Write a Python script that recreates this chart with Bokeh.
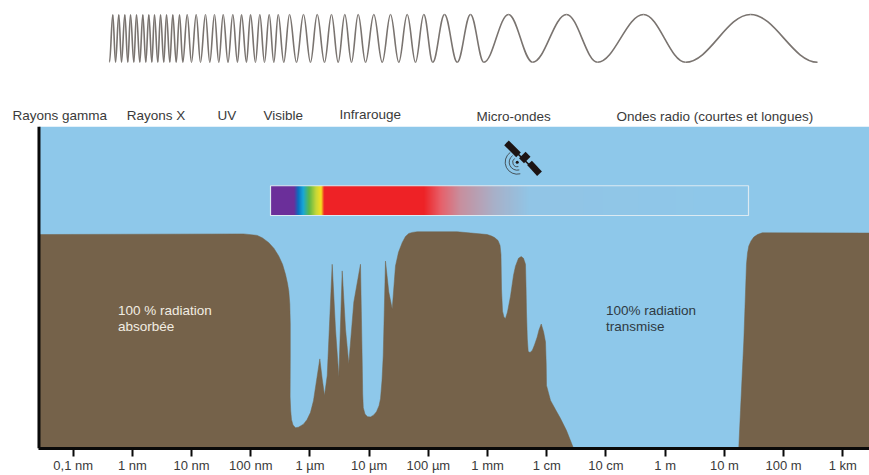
import numpy as np
from bokeh.plotting import figure
from bokeh.models import Range1d, LinearAxis, FixedTicker
from bokeh.core.properties import value
from bokeh.embed import file_html
from bokeh.resources import INLINE

# x: decades above 0.1 nm, y: % of radiation absorbed
tick_positions = list(range(14))
tick_labels = ["0,1 nm", "1 nm", "10 nm", "100 nm", "1 µm", "10 µm", "100 µm", "1 mm",
               "1 cm", "10 cm", "1 m", "10 m", "100 m", "1 km"]

absorb_x = [-0.578, 2.877, 3.108, 3.198, 3.304, 3.392, 3.473, 3.536, 3.586, 3.620, 3.642, 3.659, 3.667, 3.667,
            3.664, 3.674, 3.688, 3.713, 3.755, 3.806, 3.890, 3.949, 4.008, 4.059, 4.110, 4.166, 4.206, 4.245,
            4.291, 4.375, 4.431, 4.487, 4.544, 4.600, 4.655, 4.740, 4.853, 4.882, 4.890, 4.900, 4.929, 4.971,
            5.022, 5.073, 5.123, 5.166, 5.191, 5.216, 5.237, 5.275, 5.331, 5.389, 5.444, 5.495, 5.557, 5.613,
            5.669, 5.731, 5.811, 6.487, 6.993, 7.066, 7.117, 7.176, 7.210, 7.226, 7.235, 7.252, 7.277, 7.302,
            7.336, 7.387, 7.438, 7.471, 7.522, 7.568, 7.606, 7.640, 7.650, 7.657, 7.671, 7.686, 7.717, 7.754,
            7.792, 7.838, 7.868, 7.906, 7.946, 7.978, 7.990, 7.995, 8.063, 8.147, 8.232, 8.333, 8.446, 11.243,
            11.272, 11.328, 11.373, 11.390, 11.412, 11.450, 11.497, 11.559, 11.639, 13.451, 13.451, -0.578]
absorb_y = [99.5, 99.8, 99.1, 97.9, 95.7, 93.0, 89.4, 85.6, 80.9, 76.7, 73.0, 67.0, 57.7, 42.3,
            23.7, 17.2, 13.0, 10.5, 9.2, 9.5, 10.9, 13.0, 16.3, 21.9, 31.2, 41.4, 32.1, 24.3,
            33.6, 85.6, 55.3, 33.0, 82.5, 55.3, 39.1, 67.9, 85.6, 40.0, 25.1, 18.6, 15.6, 14.4,
            14.3, 15.1, 16.7, 19.5, 22.8, 31.2, 42.9, 87.1, 72.6, 64.7, 84.8, 91.2, 95.7, 98.6,
            100.0, 100.5, 100.8, 100.8, 99.5, 98.8, 98.1, 96.7, 94.4, 90.2, 74.0, 63.7, 60.9, 60.3,
            63.3, 70.7, 80.5, 84.7, 88.4, 89.2, 88.4, 85.6, 74.0, 63.3, 50.7, 44.8, 44.4, 45.3,
            47.9, 51.6, 54.9, 57.7, 54.0, 49.3, 39.1, 29.0, 22.0, 17.7, 13.5, 7.9, 0.0, 0.0,
            17.3, 49.9, 85.6, 90.7, 94.1, 96.5, 98.3, 99.5, 100.3, 100.2, 0.0, 0.0]

wave_troughs = [0.613, 0.715, 0.816, 0.922, 1.024, 1.125, 1.226, 1.328, 1.429, 1.530, 1.632, 1.740, 1.851,
                1.998, 2.150, 2.307, 2.459, 2.615, 2.775, 2.927, 3.079, 3.231, 3.389, 3.557, 3.772, 4.008,
                4.245, 4.476, 4.701, 4.938, 5.220, 5.500, 5.782, 6.074, 6.487, 6.936, 7.759, 8.857, 10.343,
                12.573]
wave_crests = [0.669, 0.770, 0.872, 0.968, 1.069, 1.176, 1.277, 1.373, 1.475, 1.576, 1.682, 1.796, 1.926,
               2.078, 2.235, 2.387, 2.534, 2.696, 2.843, 2.995, 3.152, 3.311, 3.463, 3.654, 3.890, 4.122,
               4.363, 4.588, 4.814, 5.078, 5.360, 5.642, 5.922, 6.272, 6.711, 7.353, 8.333, 9.634, 11.441]
WAVE_TOP, WAVE_BOTTOM = 202.3, 180.0

band_labels = ["Rayons gamma", "Rayons X", "UV", "Visible", "Infrarouge", "Micro-ondes",
               "Ondes radio (courtes et longues)"]
band_x = [-1.025, 0.905, 2.437, 3.215, 4.497, 6.813, 9.178]
band_y = [155.3, 155.3, 155.3, 155.3, 155.8, 154.6, 154.6]

stop_x = [3.333, 3.721, 3.789, 3.873, 3.975, 4.093, 4.177, 4.228, 5.917, 6.204, 6.542, 7.100, 7.674, 11.407]
stop_rgb = [(107, 47, 154), (107, 47, 154), (10, 110, 192), (24, 168, 216), (92, 184, 72), (200, 216, 56),
            (248, 224, 32), (238, 34, 38), (238, 34, 38), (232, 96, 106), (200, 144, 159), (168, 176, 200),
            (146, 197, 230), (142, 200, 234)]
BAR_X0, BAR_X1, BAR_Y0, BAR_Y1 = 3.333, 11.407, 108.4, 122.3

X0, X1 = -0.578, 13.451
SKY_TOP = 149.8

p = figure(width=869, height=475, output_backend="svg", toolbar_location=None,
           x_range=Range1d(-1.228, 13.451), y_range=Range1d(-0.465, 208.84),
           x_axis_type=None, y_axis_type=None, min_border_left=0, min_border_right=0,
           min_border_top=0, min_border_bottom=25, outline_line_color=None,
           background_fill_color="white", border_fill_color="white",
           margin=(0, 0, 0, 0))
p.grid.visible = False

# sky + absorption profile
p.quad(left=[X0], right=[13.451], bottom=[0], top=[SKY_TOP], fill_color="#8EC8EA", line_color=None)
p.patch(absorb_x, absorb_y, fill_color="#75624A", line_color="#75624A", line_width=0.5)

# wave: smooth arcs between each read extremum
ex = []
ey = []
for i, t in enumerate(wave_troughs):
    ex.append(t); ey.append(WAVE_BOTTOM)
    if i < len(wave_crests):
        ex.append(wave_crests[i]); ey.append(WAVE_TOP)
ex = np.array(ex); ey = np.array(ey)
dx = np.diff(ex)
p.bezier(x0=ex[:-1], y0=ey[:-1], x1=ex[1:], y1=ey[1:],
         cx0=ex[:-1] + 0.37 * dx, cy0=ey[:-1], cx1=ex[1:] - 0.37 * dx, cy1=ey[1:],
         line_color="#7A7470", line_width=1.6)

# spectrum bar
cols = 480
xs = np.linspace(BAR_X0, BAR_X1, cols)
rgb = np.array(stop_rgb, dtype=float)
img = np.zeros((1, cols), dtype=np.uint32)
view = img.view(dtype=np.uint8).reshape((1, cols, 4))
for c in range(3):
    view[0, :, c] = np.interp(xs, stop_x, rgb[:, c]).astype(np.uint8)
view[0, :, 3] = 255
p.image_rgba(image=[img], x=BAR_X0, y=BAR_Y0, dw=BAR_X1 - BAR_X0, dh=BAR_Y1 - BAR_Y0)
p.quad(left=[BAR_X0], right=[BAR_X1], bottom=[BAR_Y0], top=[BAR_Y1], fill_color=None,
       line_color="#DCEAF2", line_width=1.2)

# satellite icon
p.segment(x0=[7.319], y0=[142.3], x1=[7.860], y1=[127.9], line_color="#1c1414", line_width=1.5)
p.segment(x0=[7.319, 7.708], y0=[142.3, 133.0], x1=[7.522, 7.877], y1=[136.7, 127.9],
          line_color="#1c1414", line_width=6.5)
p.segment(x0=[7.573], y0=[134.0], x1=[7.683], y1=[137.0], line_color="#1c1414", line_width=7)
p.arc(x=[7.500] * 3, y=[133.3] * 3, radius=[4.5, 8, 12], radius_units="screen",
      start_angle=np.radians(125), end_angle=np.radians(285), line_color="#3d4448", line_width=0.9)
p.scatter(x=[7.500], y=[133.3], size=3, fill_color="#1c1414", line_color=None)

# left axis line
p.segment(x0=[X0], y0=[-0.465], x1=[X0], y1=[SKY_TOP], line_color="#0a0a0a", line_width=3)

# labels
p.text(x=band_x, y=band_y, text=band_labels, text_font=value("Liberation Sans"), text_font_size="13.5px",
       text_color="#3A3A3A", text_align="left", text_baseline="middle")
p.text(x=[0.755, 0.755, 9.0, 9.0], y=[64.2, 56.7, 64.2, 56.7],
       text=["100 % radiation", "absorbée", "100% radiation", "transmise"],
       text_font=value("Liberation Sans"), text_font_size="13.5px",
       text_color=["#F2EDE2", "#F2EDE2", "#2F3A42", "#2F3A42"], text_align="left", text_baseline="middle")

axis = LinearAxis(ticker=FixedTicker(ticks=tick_positions), major_label_overrides=dict(zip(tick_positions, tick_labels)))
axis.bounds = (X0, 13.451)
axis.axis_line_color = "#0a0a0a"
axis.axis_line_width = 3
axis.major_tick_line_color = "#0a0a0a"
axis.major_tick_line_width = 2
axis.major_tick_in = 0
axis.major_tick_out = 8
axis.minor_tick_line_color = None
axis.major_label_text_font = "Liberation Sans"
axis.major_label_text_font_size = "13px"
axis.major_label_text_color = "#3A3A3A"
axis.major_label_standoff = 1
p.add_layout(axis, "below")

open("out.html", "w").write(file_html(p, INLINE))
